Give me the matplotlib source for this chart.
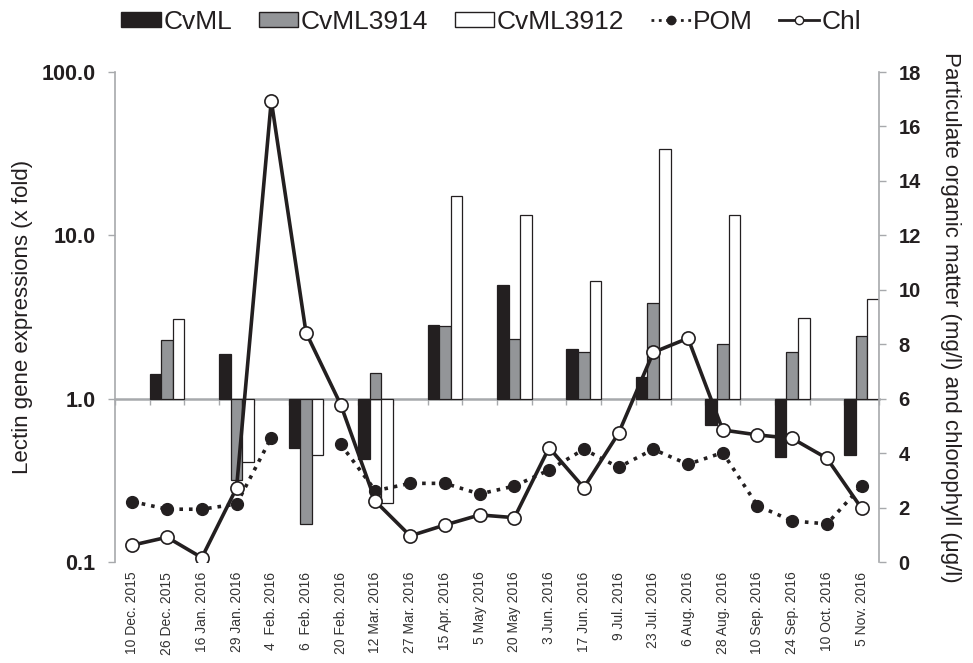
import numpy as np
import matplotlib
matplotlib.use("Agg")
import matplotlib.pyplot as plt
from matplotlib.patches import Patch
from matplotlib.lines import Line2D

plt.rcParams['font.family'] = ['Liberation Sans', 'DejaVu Sans']

# sampling dates
dates = ["10 Dec. 2015", "26 Dec. 2015", "16 Jan. 2016", "29 Jan. 2016", "4  Feb. 2016",
         "6  Feb. 2016", "20 Feb. 2016", "12 Mar. 2016", "27 Mar. 2016", "15 Apr. 2016",
         "5 May 2016", "20 May 2016", "3 Jun. 2016", "17 Jun. 2016", "9 Jul. 2016",
         "23 Jul. 2016", "6 Aug. 2016", "28 Aug. 2016", "10 Sep. 2016", "24 Sep. 2016",
         "10 Oct. 2016", "5 Nov. 2016"]

nan = np.nan
# lectin gene expression, fold change (no sample -> nan)
cvml = [nan, 1.42, nan, 1.88, nan, 0.50, nan, 0.43, nan, 2.84, nan,
        4.98, nan, 2.01, nan, 1.36, nan, 0.69, nan, 0.44, nan, 0.45]
cvml3914 = [nan, 2.30, nan, 0.32, nan, 0.17, nan, 1.43, nan, 2.77, nan,
            2.32, nan, 1.92, nan, 3.88, nan, 2.16, nan, 1.92, nan, 2.43]
cvml3912 = [nan, 3.07, nan, 0.41, nan, 0.45, nan, 0.23, nan, 17.3, nan,
            13.3, nan, 5.29, nan, 33.7, nan, 13.4, nan, 3.10, nan, 4.07]

# particulate organic matter (mg/l) and chlorophyll (ug/l)
pom = [2.22, 1.94, 1.94, 2.13, 4.57, nan, 4.32, 2.62, 2.89, 2.89, 2.50,
       2.79, 3.38, 4.14, 3.48, 4.14, 3.59, 4.02, 2.07, 1.51, 1.40, 2.79]
chl = [0.62, 0.91, 0.16, 2.72, 16.95, 8.43, 5.78, 2.23, 0.96, 1.36, 1.73,
       1.63, 4.20, 2.73, 4.73, 7.70, 8.22, 4.85, 4.67, 4.54, 3.81, 1.97]

dark = "#231f20"
grey = "#939598"
axgrey = "#a7a9ac"

fig = plt.figure(figsize=(9.73, 6.63), dpi=100)
ax = fig.add_axes([0.1182, 0.1523, 0.7852, 0.7391])

x = np.arange(len(dates))
w = 1.0 / 3
series = [(cvml, dark, dark), (cvml3914, grey, dark), (cvml3912, "white", dark)]
for i, (vals, fc, ec) in enumerate(series):
    v = np.array(vals)
    ax.bar(x + (i - 1) * w, v - 1.0, bottom=1.0, width=w, color=fc,
           edgecolor=ec, linewidth=0.9, zorder=2)

ax.set_yscale("log")
ax.set_ylim(0.1, 100)
ax.set_xlim(-0.5, len(dates) - 0.5)
ax.set_yticks([0.1, 1, 10, 100])
ax.set_yticklabels(["0.1", "1.0", "10.0", "100.0"], fontsize=15.5,
                   fontweight="bold", color=dark)
ax.yaxis.set_minor_locator(matplotlib.ticker.NullLocator())
ax.tick_params(axis="y", length=5, width=1, color=axgrey, pad=9)
ax.set_ylabel("Lectin gene expressions (x fold)", fontsize=16, color=dark, labelpad=6)

ax.set_xticks(x)
ax.set_xticklabels(dates, rotation=90, fontsize=10, color="#333333")
ax.tick_params(axis="x", length=0, pad=7)
for s in ["top", "bottom", "right"]:
    ax.spines[s].set_visible(False)
ax.spines["left"].set_color(axgrey)
ax.spines["left"].set_linewidth(1.2)

# category axis crossing at 1.0
lo, hi = ax.get_ylim()
frac = (np.log10(1.0) - np.log10(lo)) / (np.log10(hi) - np.log10(lo))
sec = ax.secondary_xaxis(frac)
sec.set_xticks(np.arange(len(dates) + 1) - 0.5)
sec.set_xticklabels([])
sec.tick_params(axis="x", direction="out", length=4, width=1, color=axgrey)
sec.spines["bottom"].set_color(axgrey)
sec.spines["bottom"].set_linewidth(1.8)

ax2 = ax.twinx()
ax2.plot(x, pom, linestyle=":", color=dark, linewidth=2.6, marker="o",
         markersize=8.5, markerfacecolor=dark, markeredgecolor=dark, zorder=3)
ax2.plot(x, chl, linestyle="-", color=dark, linewidth=2.6, marker="o",
         markersize=9.5, markerfacecolor="white", markeredgecolor=dark,
         markeredgewidth=1.2, zorder=4)
ax2.set_ylim(0, 18)
ax2.set_yticks(np.arange(0, 19, 2))
ax2.set_yticklabels([str(t) for t in range(0, 19, 2)], fontsize=14.5,
                    fontweight="bold", color=dark)
ax2.tick_params(axis="y", length=5, width=1, color=axgrey, pad=9)
for s in ["top", "bottom", "left"]:
    ax2.spines[s].set_visible(False)
ax2.spines["right"].set_color(axgrey)
ax2.spines["right"].set_linewidth(1.2)
ax2.set_ylabel("Particulate organic matter (mg/l) and chlorophyll (\u03bcg/l)",
               fontsize=16, color=dark, rotation=270, labelpad=29)

handles = [
    Patch(facecolor=dark, edgecolor=dark, label="CvML"),
    Patch(facecolor=grey, edgecolor=dark, label="CvML3914"),
    Patch(facecolor="white", edgecolor=dark, label="CvML3912"),
    Line2D([], [], linestyle=":", color=dark, linewidth=2, marker="o",
           markersize=6, markerfacecolor=dark, label="POM"),
    Line2D([], [], linestyle="-", color=dark, linewidth=2, marker="o",
           markersize=6, markerfacecolor="white", label="Chl"),
]
fig.legend(handles=handles, loc="center", bbox_to_anchor=(0.505, 0.967), ncol=5,
           frameon=False, fontsize=19, handlelength=1.5, handleheight=0.55,
           handletextpad=0.1, columnspacing=1.0, labelcolor=dark)

fig.savefig("out.png", dpi=100)
